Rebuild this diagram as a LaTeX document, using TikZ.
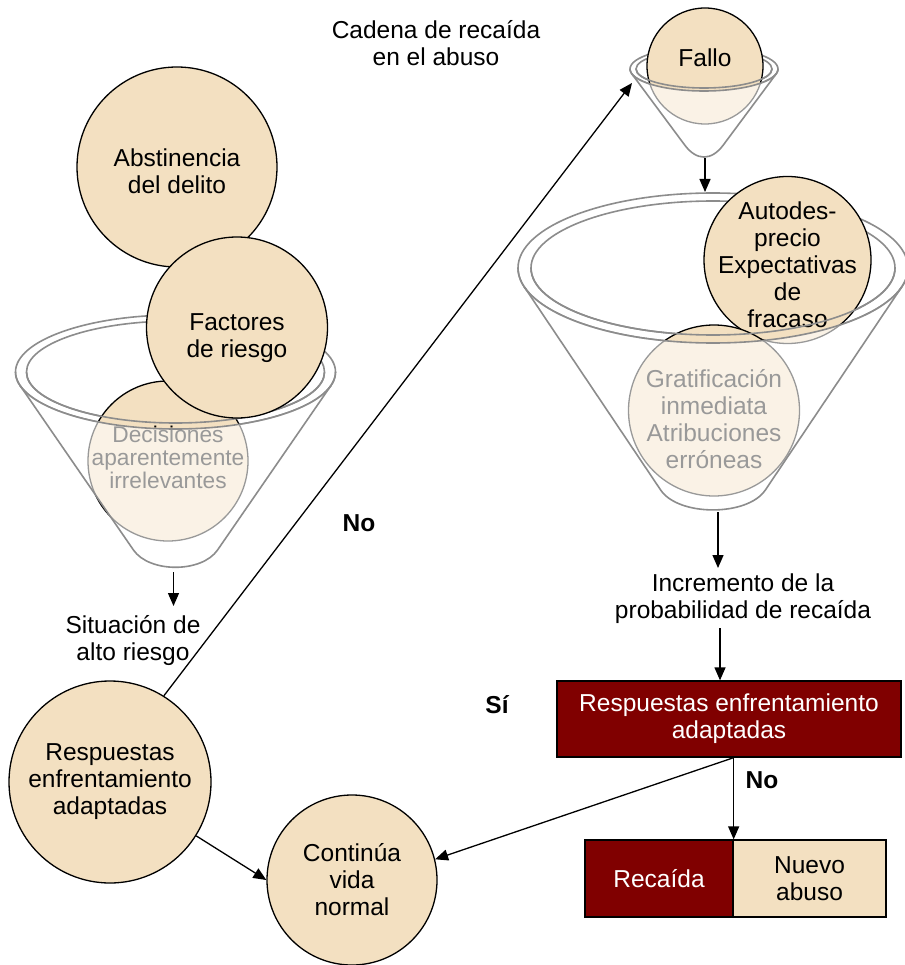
\documentclass[tikz,border=0pt]{standalone}
\usepackage{fontspec}
\setmainfont{Liberation Sans}
\usetikzlibrary{arrows.meta}
\definecolor{tanf}{HTML}{F3E0C1}
\definecolor{dred}{HTML}{800000}
\definecolor{fgray}{HTML}{8C8C8C}
\newcommand\mainf{\fontsize{24.5}{27}\selectfont}
\newcommand\decf{\fontsize{22.7}{23}\selectfont}
% back rim of a funnel: cx cy a b ai bi
\newcommand\funnelback[6]{%
  \draw[funnel] (#1,#2) ellipse [x radius=#3, y radius=#4];
  \draw[funnel] (#1,#2) ellipse [x radius=#5, y radius=#6];
}
% front of a funnel: cx cy a b ai bi vy by k
\newcommand\funnelfront[9]{%
  \pgfmathsetmacro\fpy{#7-#2}%
  \pgfmathsetmacro\fty{#2+(#4/10)*(#4/10)*100/\fpy}%
  \pgfmathsetmacro\ftx{#3*sqrt(1-(#4/\fpy)^2)}%
  \pgfmathsetmacro\fth{asin(#4/\fpy)}%
  \pgfmathsetmacro\ffr{(#8-\fty)/(#7-\fty)}%
  \pgfmathsetmacro\fbx{\ftx*(1-\ffr)}%
  \pgfmathsetmacro\flen{100*sqrt((\ftx/100)^2+((#7-\fty)/100)^2)}%
  \pgfmathsetmacro\fcx{\fbx-#9*\ftx/\flen}%
  \pgfmathsetmacro\fcy{#8+#9*(#7-\fty)/\flen}%
  \begin{scope}
    \clip (#1-\ftx,\fty) -- (#1-\fbx,#8) .. controls (#1-\fcx,\fcy) and (#1+\fcx,\fcy) .. (#1+\fbx,#8) -- (#1+\ftx,\fty)
      arc [start angle=\fth, end angle=180-\fth, x radius=#3, y radius=#4] -- cycle;
    \fill[white, opacity=0.6, even odd rule] (#1-#3-5,#2-#4-5) rectangle (#1+#3+5,#7+5)
      (#1,#2) ellipse [x radius=#5, y radius=#6];
  \end{scope}
  \draw[funnel] (#1-\ftx,\fty) -- (#1-\fbx,#8) .. controls (#1-\fcx,\fcy) and (#1+\fcx,\fcy) .. (#1+\fbx,#8) -- (#1+\ftx,\fty);
  \draw[funnel] (#1+#3,#2) arc [start angle=0, end angle=180, x radius=#3, y radius=#4];
  \draw[funnel] (#1+#5,#2) arc [start angle=0, end angle=180, x radius=#5, y radius=#6];
}
\tikzset{
  circ/.style={circle, draw=black, line width=1.3pt, fill=tanf, minimum size=#1, inner sep=0pt, align=center, font=\mainf},
  funnel/.style={draw=fgray, line width=1.6pt},
  arr/.style={-{Triangle[length=13pt,width=11pt]}, line width=1.3pt},
  lbl/.style={align=center, font=\mainf, inner sep=0pt},
  yesno/.style={font=\mainf\bfseries, inner sep=0pt},
  darkbox/.style={rectangle, draw=black, line width=1.3pt, fill=dred, text=white, align=center, font=\mainf, inner sep=0pt},
  lightbox/.style={rectangle, draw=black, line width=1.3pt, fill=tanf, align=center, font=\mainf, inner sep=0pt},
}
\begin{document}
\begin{tikzpicture}[x=1pt, y=-1pt]
\useasboundingbox (0,0) rectangle (904,965);
\fill[white] (0,0) rectangle (904,965);

% left column top circle
\node[circ=200pt] (abst) at (177,167) {};
\node[lbl] (abstt) at (177,171.5) {Abstinencia\\del delito};

% funnel backs
\funnelback{175.5}{372}{160}{57}{149}{51}
\funnelback{704}{69}{74}{22}{68}{19}
\funnelback{713}{268}{195}{75}{182}{67}

% circles inside funnels
\node[circ=160pt] (dec) at (168,461) {};
\node[lbl, font=\decf] (dect) at (168,457) {Decisiones\\aparentemente\\irrelevantes};
\node[circ=116pt] (fallo) at (705,66) {};
\node[lbl] (fallot) at (705,58) {Fallo};
\node[circ=167pt] (auto) at (787.5,260) {};
\node[lbl] (autot) at (787.5,265) {Autodes-\\precio\\Expectativas\\de\\fracaso};
\node[circ=171pt] (grat) at (714,410.5) {};
\node[lbl] (gratt) at (714,419.5) {Gratificación\\inmediata\\Atribuciones\\erróneas};

% funnel fronts
\funnelfront{175.5}{372}{160}{57}{149}{51}{611}{550}{28}
\funnelfront{704}{69}{74}{22}{68}{19}{171}{145}{20}
\funnelfront{713}{268}{195}{75}{182}{67}{568}{490}{32}

\node[circ=181pt] (fact) at (237,327.5) {};
\node[lbl] (factt) at (237,338.5) {Factores\\de riesgo};

% other nodes
\node[lbl] (title) at (436,43.5) {Cadena de recaída\\en el abuso};
\node[lbl] (sit) at (133,641) {Situación de\\alto riesgo};
\node[circ=202pt] (resp1) at (110,782) {Respuestas\\enfrentamiento\\adaptadas};
\node[circ=170pt] (cont) at (352,880) {Continúa\\vida\\normal};
\node[lbl] (inc) at (743,598.5) {Incremento de la\\probabilidad de recaída};
\node[darkbox, minimum width=344pt, minimum height=76pt] (box) at (729,719) {Respuestas enfrentamiento\\adaptadas};
\node[darkbox, minimum width=148pt, minimum height=77pt] (rec) at (659,878.5) {Recaída};
\node[lightbox, minimum width=153pt, minimum height=77pt] (nue) at (809.5,878.5) {Nuevo\\abuso};
\node[yesno] (no1) at (359,523) {No};
\node[yesno] (si) at (497,705) {Sí};
\node[yesno] (no2) at (762,780) {No};

% coordinates for free ends
\coordinate (f1bot) at (173.5,572);
\coordinate (sittop) at (173.5,606);
\coordinate (fin) at (632,83);
\coordinate (f2bot) at (705,158);
\coordinate (f3top) at (705,192);
\coordinate (f3bot) at (718,512);
\coordinate (inctop) at (718,568);
\coordinate (incbot) at (720,628);

% connectors
\draw[arr] (f1bot) -- (sittop);
\draw[arr] (resp1.58) -- (fin);
\draw[arr] (resp1.-32) -- (cont.west);
\draw[arr] (f2bot) -- (f3top);
\draw[arr] (f3bot) -- (inctop);
\draw[arr] (incbot) -- (incbot |- box.north);
\draw[arr] (box.south -| rec.east) -- (rec.north east);
\draw[arr] (box.south -| rec.east) -- (cont.14);
\end{tikzpicture}
\end{document}
